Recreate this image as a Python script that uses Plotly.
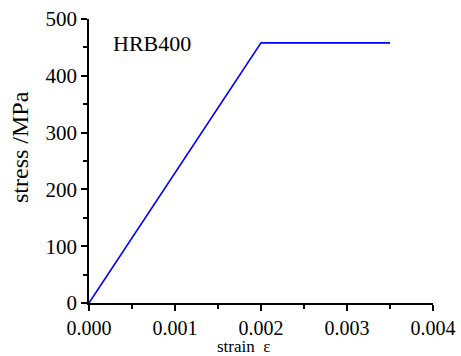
import plotly.graph_objects as go

strain = [0.0, 0.002, 0.0035]
stress = [0.0, 458.0, 458.0]
x_ticks = [0.000, 0.001, 0.002, 0.003, 0.004]
x_tick_labels = ["0.000", "0.001", "0.002", "0.003", "0.004"]
y_ticks = [0, 100, 200, 300, 400, 500]
y_tick_labels = ["0", "100", "200", "300", "400", "500"]

FONT = "serif"

fig = go.Figure()
fig.add_trace(go.Scatter(x=strain, y=stress, mode="lines",
                         line=dict(color="#0000ff", width=1.6), showlegend=False))

fig.update_layout(
    width=461, height=356,
    margin=dict(l=89, r=28, t=19, b=53),
    paper_bgcolor="white", plot_bgcolor="white",
    font=dict(family=FONT, color="black"),
    xaxis=dict(range=[0, 0.004], tickvals=x_ticks, ticktext=x_tick_labels,
               automargin=False,
               showline=True, linecolor="black", linewidth=1.5,
               ticks="outside", ticklen=6, tickwidth=1.5, tickcolor="black",
               minor=dict(ticks="outside", ticklen=4, tickwidth=1.5, tickcolor="black", dtick=0.0005),
               showgrid=False, zeroline=False, tickfont=dict(size=20, family=FONT)),
    yaxis=dict(range=[0, 500], tickvals=y_ticks, ticktext=y_tick_labels,
               automargin=False,
               showline=True, linecolor="black", linewidth=1.5,
               ticks="outside", ticklen=6, tickwidth=1.5, tickcolor="black",
               minor=dict(ticks="outside", ticklen=4, tickwidth=1.5, tickcolor="black", dtick=50),
               showgrid=False, zeroline=False, tickfont=dict(size=21, family=FONT)),
)

fig.add_annotation(text="stress /MPa", xref="paper", yref="paper",
                   x=-0.2, y=0.55, xanchor="center", yanchor="middle",
                   textangle=-90, showarrow=False, font=dict(size=24, family=FONT))
fig.add_annotation(text="strain  ε", xref="paper", yref="paper",
                   x=0.45, y=-0.0, yshift=-32, xanchor="center", yanchor="top",
                   showarrow=False, font=dict(size=17, family=FONT))
fig.add_annotation(text="HRB400", xref="paper", yref="paper",
                   x=0.065, y=0.915, xanchor="left", yanchor="middle",
                   showarrow=False, font=dict(size=22, family=FONT))

fig.write_html("out.html")
